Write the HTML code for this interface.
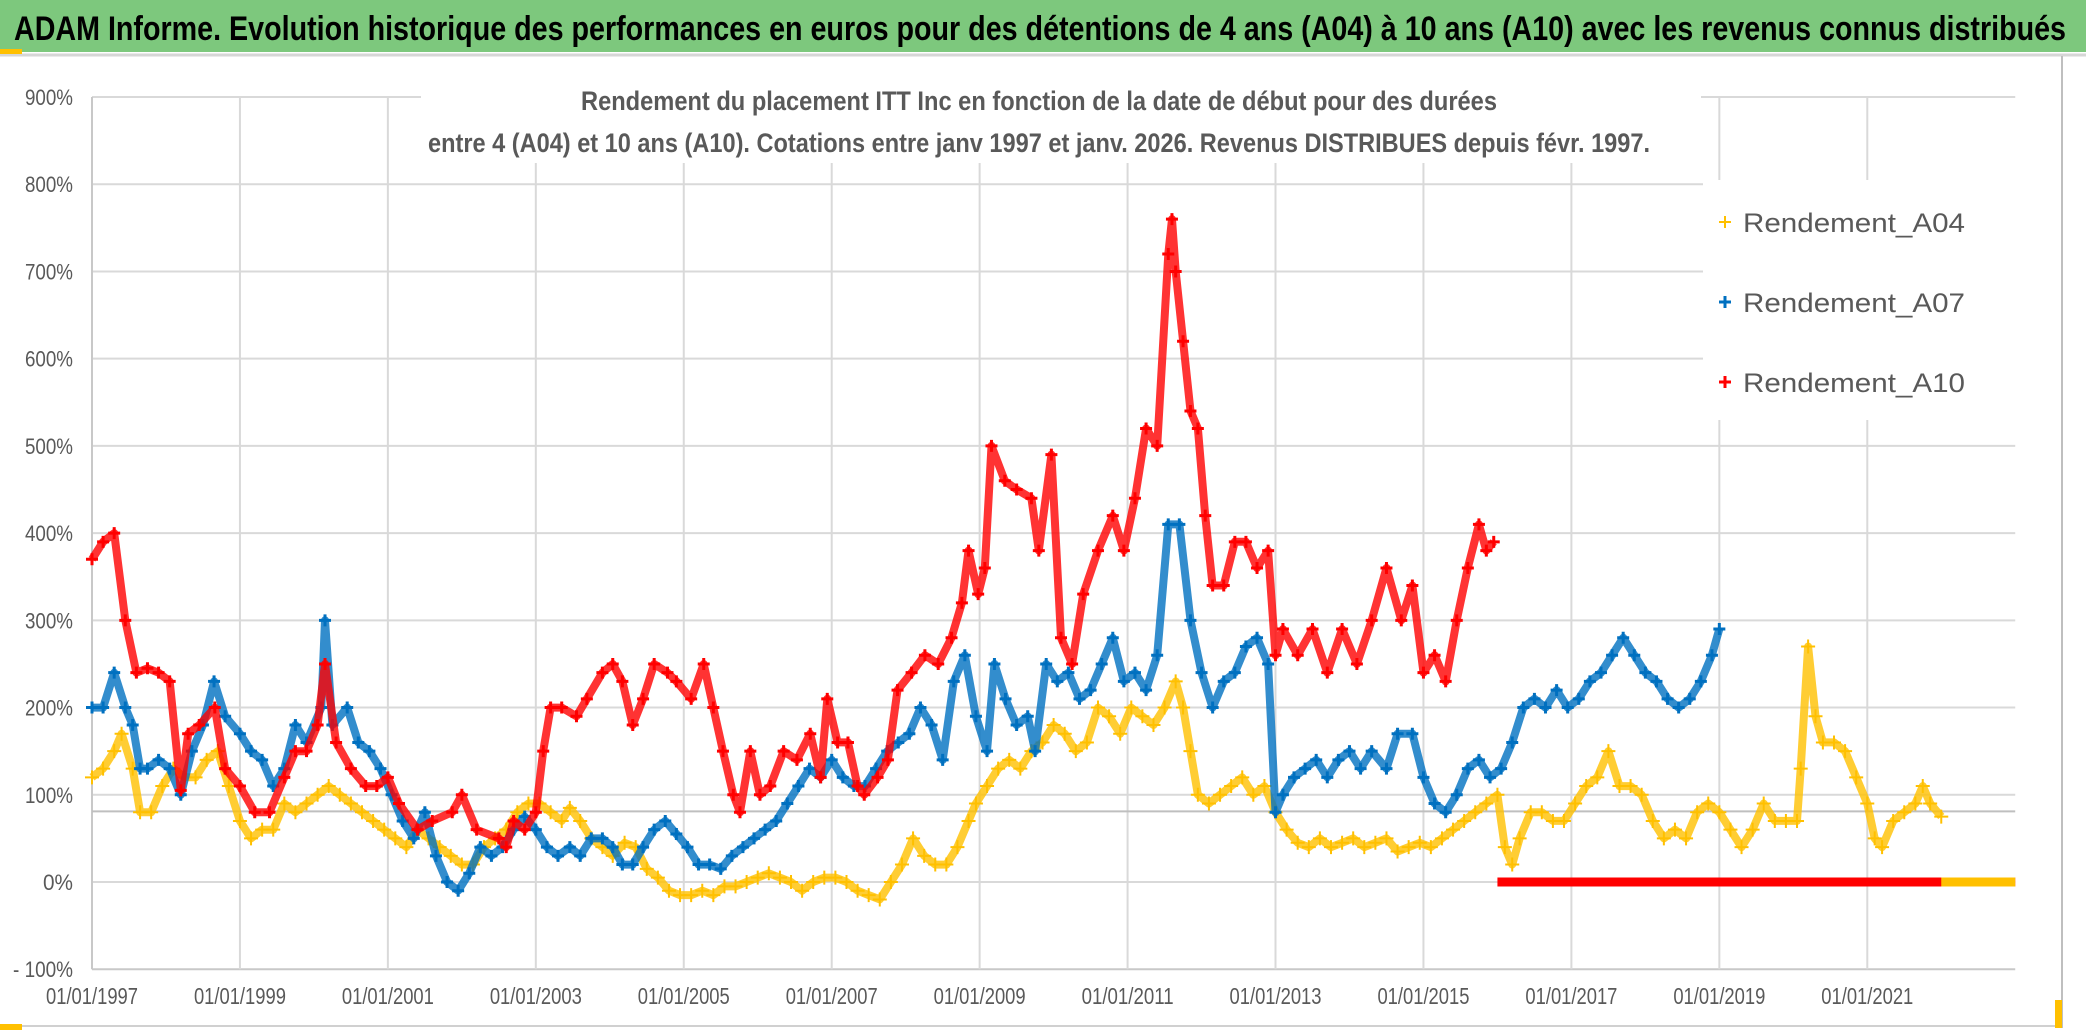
<!DOCTYPE html>
<html><head><meta charset="utf-8">
<style>
html,body{margin:0;padding:0;background:#fff;}
svg{display:block;font-family:"Liberation Sans",sans-serif;}
</style></head>
<body>
<svg id="chart" width="2086" height="1032" viewBox="0 0 2086 1032" xmlns="http://www.w3.org/2000/svg">
  <rect x="0" y="0" width="2086" height="1032" fill="#fff"/>
  <rect x="0" y="0" width="2086" height="52" fill="#7dc87d"/>
  <line x1="0" y1="55" x2="2086" y2="55" stroke="#d6d6d6" stroke-width="3"/>
  <rect x="0" y="49" width="22" height="5" fill="#ffc000"/>
  <text x="14" y="40" font-size="34" font-weight="bold" fill="#000" textLength="2052" lengthAdjust="spacingAndGlyphs">ADAM Informe. Evolution historique des performances en euros pour des détentions de 4 ans (A04) à 10 ans (A10) avec les revenus connus distribués</text>
  <line x1="2062" y1="56" x2="2062" y2="1028" stroke="#bfbfbf" stroke-width="2"/>
  <line x1="0" y1="1026" x2="2062" y2="1026" stroke="#d0d0d0" stroke-width="2"/>
  <rect x="0" y="1024" width="22" height="6" fill="#ffc000"/>
  <rect x="2055" y="1000" width="7" height="28" fill="#ffc000"/>
  <g id="grid"></g>
  <g id="axes"></g>
  <g id="series"></g>
  <rect x="421" y="60" width="1280" height="103" fill="#fff"/>
  <text x="581" y="110" font-size="27" font-weight="bold" fill="#595959" textLength="916" lengthAdjust="spacingAndGlyphs">Rendement du placement ITT Inc en fonction de la date de début pour des durées</text>
  <text x="428" y="152" font-size="27" font-weight="bold" fill="#595959" textLength="1222" lengthAdjust="spacingAndGlyphs">entre 4 (A04) et 10 ans (A10). Cotations entre janv 1997 et janv. 2026. Revenus DISTRIBUES depuis févr. 1997.</text>
  <g id="legend">
    <rect x="1703" y="180" width="315" height="240" fill="#fff"/>
    <g>
      <path d="M1719,222H1731M1725,216V228" stroke="#ffc000" stroke-width="2"/>
      <text x="1743" y="232" font-size="27" fill="#595959" textLength="222" lengthAdjust="spacingAndGlyphs">Rendement_A04</text>
    </g>
    <g>
      <path d="M1719,302H1731M1725,296V308" stroke="#0070c0" stroke-width="3"/>
      <text x="1743" y="312" font-size="27" fill="#595959" textLength="222" lengthAdjust="spacingAndGlyphs">Rendement_A07</text>
    </g>
    <g>
      <path d="M1719,382H1731M1725,376V388" stroke="#ff0000" stroke-width="3"/>
      <text x="1743" y="392" font-size="27" fill="#595959" textLength="222" lengthAdjust="spacingAndGlyphs">Rendement_A10</text>
    </g>
  </g>
</svg>
<script>
const yTicks = [-100,0,100,200,300,400,500,600,700,800,900];
const xTickYears = [1997,1999,2001,2003,2005,2007,2009,2011,2013,2015,2017,2019,2021];
const xTickLabels = ["01/01/1997","01/01/1999","01/01/2001","01/01/2003","01/01/2005","01/01/2007","01/01/2009","01/01/2011","01/01/2013","01/01/2015","01/01/2017","01/01/2019","01/01/2021"];
const refLineValue = 81;

const a04Years = [1997.0,1997.15,1997.3,1997.4,1997.55,1997.65,1997.8,1997.95,1998.1,1998.25,1998.4,1998.55,1998.7,1998.85,1999.0,1999.15,1999.3,1999.45,1999.6,1999.75,1999.9,2000.05,2000.2,2000.35,2000.5,2000.65,2000.8,2000.95,2001.1,2001.25,2001.4,2001.55,2001.7,2001.85,2002.0,2002.15,2002.3,2002.45,2002.6,2002.75,2002.9,2003.05,2003.2,2003.35,2003.46,2003.6,2003.75,2003.9,2004.04,2004.2,2004.35,2004.5,2004.65,2004.8,2004.95,2005.1,2005.25,2005.4,2005.55,2005.7,2005.85,2006.0,2006.15,2006.3,2006.45,2006.6,2006.75,2006.9,2007.05,2007.2,2007.35,2007.5,2007.65,2007.8,2007.95,2008.1,2008.25,2008.4,2008.55,2008.7,2008.85,2008.95,2009.1,2009.25,2009.4,2009.55,2009.7,2009.85,2010.0,2010.15,2010.3,2010.45,2010.6,2010.75,2010.9,2011.05,2011.2,2011.35,2011.5,2011.65,2011.75,2011.85,2011.95,2012.1,2012.25,2012.4,2012.55,2012.7,2012.85,2013.0,2013.15,2013.3,2013.45,2013.6,2013.75,2013.9,2014.05,2014.2,2014.35,2014.5,2014.65,2014.8,2014.95,2015.1,2015.25,2015.4,2015.55,2015.7,2015.85,2016.0,2016.1,2016.2,2016.3,2016.45,2016.6,2016.75,2016.9,2017.05,2017.2,2017.35,2017.5,2017.65,2017.8,2017.95,2018.1,2018.25,2018.4,2018.55,2018.7,2018.85,2019.0,2019.15,2019.3,2019.45,2019.6,2019.75,2019.9,2020.05,2020.1,2020.2,2020.3,2020.4,2020.55,2020.7,2020.85,2021.0,2021.1,2021.2,2021.35,2021.5,2021.65,2021.75,2021.85,2022.0];
const a04Values = [120,130,150,170,130,80,80,110,130,120,120,140,150,110,70,50,60,60,90,80,90,100,110,100,90,80,70,60,50,40,60,50,40,30,20,20,40,50,60,80,90,90,80,70,85,70,50,40,30,45,40,15,5,-10,-15,-15,-10,-15,-5,-5,0,5,10,5,0,-10,0,5,5,0,-10,-15,-20,0,20,50,30,20,20,40,70,90,110,130,140,130,150,160,180,170,150,160,200,190,170,200,190,180,200,230,200,150,100,90,100,110,120,100,110,80,60,45,40,50,40,45,50,40,45,50,35,40,45,40,50,60,70,80,90,100,40,20,50,80,80,70,70,90,110,120,150,110,110,100,70,50,60,50,80,90,80,60,40,60,90,70,70,70,130,270,190,160,160,150,120,90,50,40,70,80,90,110,90,75];

const a07Years = [1997.0,1997.15,1997.3,1997.45,1997.55,1997.65,1997.75,1997.9,1998.05,1998.2,1998.35,1998.5,1998.65,1998.8,1999.0,1999.15,1999.3,1999.45,1999.6,1999.75,1999.9,2000.1,2000.15,2000.25,2000.45,2000.6,2000.75,2000.9,2001.05,2001.2,2001.35,2001.5,2001.65,2001.8,2001.95,2002.1,2002.25,2002.4,2002.55,2002.7,2002.85,2003.0,2003.15,2003.3,2003.46,2003.6,2003.75,2003.9,2004.04,2004.17,2004.31,2004.45,2004.6,2004.75,2004.9,2005.05,2005.2,2005.35,2005.5,2005.65,2005.8,2005.95,2006.1,2006.25,2006.4,2006.55,2006.7,2006.85,2007.0,2007.15,2007.3,2007.45,2007.6,2007.75,2007.9,2008.05,2008.2,2008.35,2008.5,2008.65,2008.8,2008.95,2009.1,2009.2,2009.35,2009.5,2009.65,2009.75,2009.9,2010.05,2010.2,2010.35,2010.5,2010.65,2010.8,2010.95,2011.1,2011.25,2011.4,2011.55,2011.7,2011.85,2012.0,2012.15,2012.3,2012.45,2012.6,2012.75,2012.9,2013.0,2013.1,2013.25,2013.4,2013.55,2013.7,2013.85,2014.0,2014.15,2014.3,2014.5,2014.65,2014.85,2015.0,2015.15,2015.3,2015.45,2015.6,2015.75,2015.9,2016.05,2016.2,2016.35,2016.5,2016.65,2016.8,2016.95,2017.1,2017.25,2017.4,2017.55,2017.7,2017.85,2018.0,2018.15,2018.3,2018.45,2018.6,2018.75,2018.9,2019.0];
const a07Values = [200,200,240,200,180,130,130,140,130,100,150,180,230,190,170,150,140,110,130,180,160,200,300,180,200,160,150,130,100,70,50,80,30,0,-10,10,40,30,40,60,75,60,40,30,40,30,50,50,40,20,20,40,60,70,55,40,20,20,15,30,40,50,60,70,90,110,130,120,140,120,110,110,130,150,160,170,200,180,140,230,260,190,150,250,210,180,190,150,250,230,240,210,220,250,280,230,240,220,260,410,410,300,240,200,230,240,270,280,250,80,100,120,130,140,120,140,150,130,150,130,170,170,120,90,80,100,130,140,120,130,160,200,210,200,220,200,210,230,240,260,280,260,240,230,210,200,210,230,260,290];

const a10Years = [1997.0,1997.15,1997.3,1997.45,1997.6,1997.75,1997.9,1998.05,1998.2,1998.3,1998.45,1998.66,1998.8,1999.0,1999.2,1999.4,1999.6,1999.75,1999.9,2000.05,2000.15,2000.3,2000.5,2000.7,2000.85,2001.0,2001.15,2001.4,2001.6,2001.87,2002.0,2002.2,2002.5,2002.6,2002.7,2002.85,2003.0,2003.1,2003.2,2003.35,2003.55,2003.69,2003.9,2004.04,2004.17,2004.31,2004.45,2004.6,2004.78,2004.9,2005.1,2005.27,2005.4,2005.53,2005.67,2005.76,2005.9,2006.03,2006.17,2006.35,2006.53,2006.71,2006.85,2006.94,2007.08,2007.22,2007.35,2007.44,2007.62,2007.76,2007.89,2008.08,2008.26,2008.44,2008.62,2008.76,2008.85,2008.98,2009.07,2009.16,2009.34,2009.5,2009.7,2009.8,2009.97,2010.1,2010.25,2010.4,2010.6,2010.8,2010.95,2011.1,2011.25,2011.4,2011.55,2011.6,2011.65,2011.75,2011.85,2011.95,2012.05,2012.15,2012.3,2012.45,2012.6,2012.75,2012.9,2013.0,2013.1,2013.3,2013.5,2013.7,2013.9,2014.1,2014.3,2014.5,2014.7,2014.85,2015.0,2015.15,2015.3,2015.45,2015.6,2015.75,2015.85,2015.95];
const a10Values = [370,390,400,300,240,245,240,230,105,170,180,200,130,110,80,80,120,150,150,180,250,160,130,110,110,120,90,60,70,80,100,60,50,40,70,60,80,150,200,200,190,210,240,250,230,180,210,250,240,230,210,250,200,150,100,80,150,100,110,150,140,170,120,210,160,160,110,100,120,140,220,240,260,250,280,320,380,330,360,500,460,450,440,380,490,280,250,330,380,420,380,440,520,500,720,760,700,620,540,520,420,340,340,390,390,360,380,260,290,260,290,240,290,250,300,360,300,340,240,260,230,300,360,410,380,390];

const zeroBands = [
  {name:'a10-zero-band', start:2016.0, end:2023.0, color:'#ff0000'},
  {name:'a04-zero-band', start:2022.0, end:2023.0, color:'#ffc000'}
];

const X0 = 92, PX_PER_YEAR = 73.97, XMIN = 1997;
const Y0 = 882, PX_PER_PCT = 0.8722;
function xs(t){ return X0 + (t - XMIN) * PX_PER_YEAR; }
function ys(v){ return Y0 - v * PX_PER_PCT; }
const NS = 'http://www.w3.org/2000/svg';
function mk(tag, attrs, parent){ const e = document.createElementNS(NS, tag); for (const k in attrs) e.setAttribute(k, attrs[k]); parent.appendChild(e); return e; }

const grid = document.getElementById('grid');
const axes = document.getElementById('axes');
const plotRight = xs(2023);
yTicks.forEach(v => {
  const l = mk('line', {x1: X0, x2: plotRight, y1: ys(v), y2: ys(v), stroke: v === -100 ? '#c8c8c8' : '#d9d9d9', 'stroke-width': 2}, grid);
  
  
  const label = v < 0 ? '- ' + Math.abs(v) + '%' : v + '%';
  const t = mk('text', {x: 73, y: ys(v) + 8, 'font-size': 22, fill: '#595959', 'text-anchor': 'end', textLength: v < 0 ? 60 : (v === 0 ? 30 : 48), lengthAdjust: 'spacingAndGlyphs'}, axes);
  t.textContent = label;
  
  
});
xTickYears.forEach((yr, i) => {
  const l = mk('line', {x1: xs(yr), x2: xs(yr), y1: ys(900), y2: ys(-100), stroke: i === 0 ? '#c8c8c8' : '#d9d9d9', 'stroke-width': 2}, grid);
  
  
  const t = mk('text', {x: xs(yr) - 46, y: 1004, 'font-size': 23, fill: '#595959', textLength: 92, lengthAdjust: 'spacingAndGlyphs'}, axes);
  t.textContent = xTickLabels[i];
  
  
});
const ref = mk('line', {x1: X0, x2: plotRight, y1: ys(refLineValue), y2: ys(refLineValue), stroke: '#bfbfbf', 'stroke-width': 2}, grid);



const layer = document.getElementById('series');
function drawSeries(name, years, vals, color, sw, size){
  const g = mk('g', {}, layer);
  
  
  const pts = years.map((t, i) => xs(t).toFixed(1) + ',' + ys(vals[i]).toFixed(1)).join(' ');
  mk('polyline', {points: pts, fill: 'none', stroke: color, 'stroke-width': 8, 'stroke-linejoin': 'round', opacity: 0.8}, g);
  years.forEach((t, i) => {
    const x = xs(t), y = ys(vals[i]);
    const p = mk('path', {d: `M${x-size},${y}H${x+size}M${x},${y-size}V${y+size}`, stroke: color, 'stroke-width': sw, fill: 'none'}, g);
    
    
  });
}
drawSeries('series-a04', a04Years, a04Values, '#ffc000', 2, 7);
drawSeries('series-a07', a07Years, a07Values, '#0070c0', 3, 6);
drawSeries('series-a10', a10Years, a10Values, '#ff0000', 3, 6);

zeroBands.forEach(b => {
  const g = mk('g', {}, layer);
  
  
  mk('line', {x1: xs(b.start), x2: xs(b.end), y1: ys(0), y2: ys(0), stroke: b.color, 'stroke-width': 9}, g);
});
</script>
</body></html>
